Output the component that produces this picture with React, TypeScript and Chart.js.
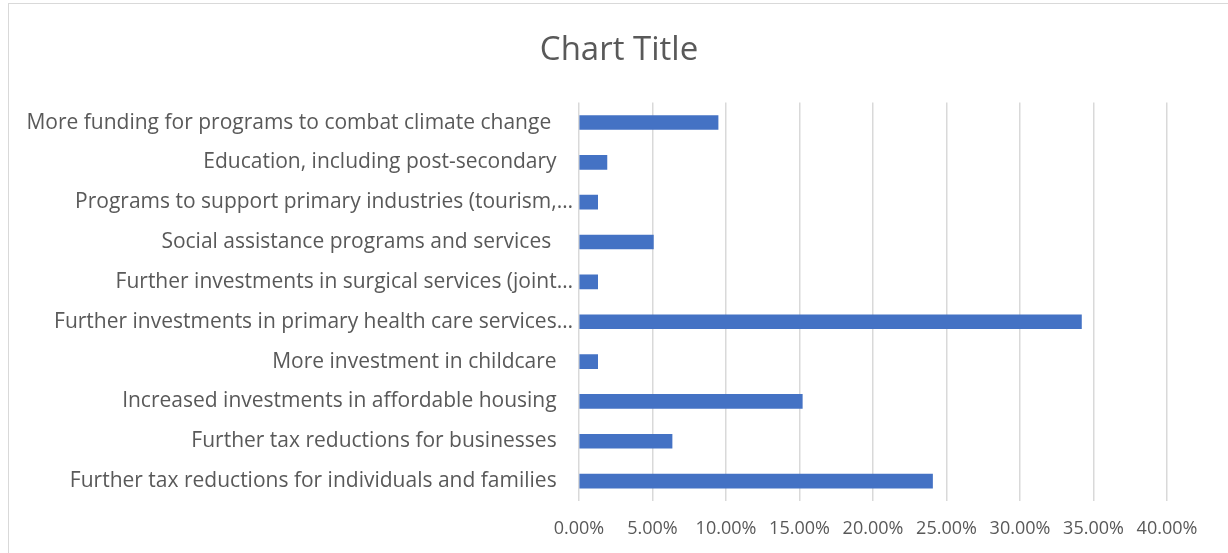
import React, { useEffect, useRef } from "react";
import { Chart, registerables } from "chart.js";

Chart.register(...registerables);

const categories: string[] = [
  "More funding for programs to combat climate change ",
  "Education, including post-secondary",
  "Programs to support primary industries (tourism,…",
  "Social assistance programs and services ",
  "Further investments in surgical services (joint…",
  "Further investments in primary health care services…",
  "More investment in childcare",
  "Increased investments in affordable housing",
  "Further tax reductions for businesses",
  "Further tax reductions for individuals and families",
];

const values: number[] = [
  0.0946, 0.019, 0.0127, 0.0506, 0.0127, 0.3418, 0.0127, 0.1519, 0.0633, 0.2405,
];

const xMin = 0;
const xMax = 0.4;
const xStep = 0.05;
const chartTitle = "Chart Title";

// Centre the title over the whole chart frame rather than the padded layout box
const titleCentrePlugin = {
  id: "titleCentre",
  afterLayout(chart: any) {
    const tb = chart.titleBlock;
    if (tb) {
      tb.left = 10;
      tb.right = 1228;
    }
  },
};

export default function App() {
  const ref = useRef<HTMLCanvasElement | null>(null);

  useEffect(() => {
    document.body.style.margin = "0";
    const canvas = ref.current;
    if (!canvas) return;
    const chart = new Chart(canvas, {
      type: "bar",
      data: {
        labels: categories,
        datasets: [
          {
            data: values,
            backgroundColor: "#4472C4",
            borderWidth: 0,
            barThickness: 14,
          },
        ],
      },
      plugins: [titleCentrePlugin],
      options: {
        indexAxis: "y",
        animation: false,
        responsive: false,
        maintainAspectRatio: false,
        layout: { padding: { left: 0, right: 61, top: 0, bottom: 0 } },
        plugins: {
          legend: { display: false },
          tooltip: { enabled: false },
          title: {
            display: true,
            text: chartTitle,
            color: "#595959",
            font: { family: "'Open Sans', sans-serif", size: 33, weight: "normal", lineHeight: 1.2 },
            padding: { top: 31, bottom: 32 },
          },
        },
        scales: {
          x: {
            min: xMin,
            max: xMax,
            border: { display: false },
            grid: { color: "#d9d9d9", lineWidth: 1.5, drawTicks: false },
            ticks: {
              stepSize: xStep,
              color: "#595959",
              padding: 17,
              font: { family: "'Open Sans', sans-serif", size: 18 },
              callback: (v: any) => (Number(v) * 100).toFixed(2) + "%",
              maxRotation: 0,
            },
            afterFit: (s: any) => {
              s.height = 52;
            },
          },
          y: {
            border: { display: false },
            grid: { display: false, drawTicks: false },
            ticks: {
              color: "#595959",
              padding: 6,
              font: { family: "'Open Sans', sans-serif", size: 21 },
              autoSkip: false,
              callback: function (this: any, v: any) {
                const l = this.getLabelForValue(v) as string;
                return l.endsWith("…") ? l : l + "   ";
              },
            },
            afterFit: (s: any) => {
              s.width = 579;
            },
          },
        },
      },
    });
    return () => chart.destroy();
  }, []);

  return (
    <div style={{ position: "relative", width: 1228, height: 553, overflow: "hidden", background: "#fff" }}>
      <div
        style={{
          position: "absolute",
          left: 8,
          top: 3,
          width: 1300,
          height: 700,
          border: "1.5px solid #d9d9d9",
          boxSizing: "border-box",
        }}
      />
      <canvas ref={ref} width={1228} height={553} style={{ position: "absolute", left: 0, top: 0 }} />
    </div>
  );
}
